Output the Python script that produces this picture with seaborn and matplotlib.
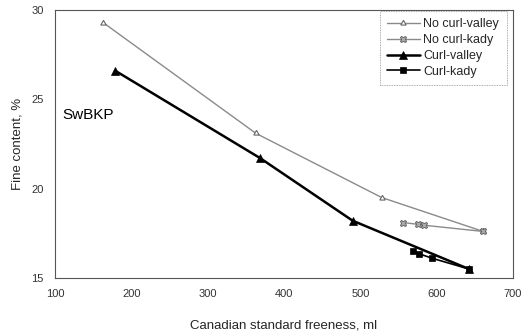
import matplotlib
matplotlib.use("Agg")
import matplotlib.pyplot as plt
import seaborn as sns
import pandas as pd

# Fine content vs. CSF for SwBKP, four refining series
nocurl_valley_csf = [163, 363, 528, 661]
nocurl_valley_fines = [29.3, 23.1, 19.5, 17.6]

nocurl_kady_csf = [556, 575, 583, 661]
nocurl_kady_fines = [18.1, 18.0, 17.95, 17.6]

curl_valley_csf = [179, 369, 490, 642]
curl_valley_fines = [26.6, 21.7, 18.2, 15.5]

curl_kady_csf = [569, 577, 594, 642]
curl_kady_fines = [16.5, 16.35, 16.1, 15.5]

series_names = ["No curl-valley", "No curl-kady", "Curl-valley", "Curl-kady"]

frames = []
for name, xs, ys in zip(series_names,
                        [nocurl_valley_csf, nocurl_kady_csf, curl_valley_csf, curl_kady_csf],
                        [nocurl_valley_fines, nocurl_kady_fines, curl_valley_fines, curl_kady_fines]):
    frames.append(pd.DataFrame({"csf": xs, "fines": ys, "series": name}))
df = pd.concat(frames, ignore_index=True)

sns.set_theme(style="white")
plt.rcParams["font.family"] = ["Liberation Sans", "DejaVu Sans"]

fig = plt.figure(figsize=(5.24, 3.36), dpi=100)
ax = fig.add_axes([0.105, 0.173, 0.874, 0.797])

styles = {
    "No curl-valley": dict(color="#8a8a8a", lw=1.0, marker=(3, 0, 0), ms=4.5, mfc="white", mec="#666666", mew=0.8),
    "No curl-kady": dict(color="#8a8a8a", lw=1.0, marker="X", ms=5, mfc="#aaaaaa", mec="#555555", mew=0.6),
    "Curl-valley": dict(color="black", lw=1.8, marker="^", ms=5.5, mfc="black", mec="black", mew=0.5),
    "Curl-kady": dict(color="black", lw=1.2, marker="s", ms=5, mfc="black", mec="black", mew=0.5),
}

for name in series_names:
    sub = df[df["series"] == name]
    st = styles[name]
    sns.lineplot(data=sub, x="csf", y="fines", ax=ax, sort=False, label=name,
                 color=st["color"], linewidth=st["lw"], marker=st["marker"],
                 markersize=st["ms"], markerfacecolor=st["mfc"],
                 markeredgecolor=st["mec"], markeredgewidth=st["mew"])

ax.set_xlim(100, 700)
ax.set_ylim(15, 30)
ax.set_xticks([100, 200, 300, 400, 500, 600, 700])
ax.set_yticks([15, 20, 25, 30])
ax.tick_params(axis="both", length=0, labelsize=8, labelcolor="#333333", pad=8)

for sp in ax.spines.values():
    sp.set_color("#555555")
    sp.set_linewidth(0.8)
    sp.set_linestyle((0, (2, 1)))

ax.set_xlabel("Canadian standard freeness, ml", fontsize=9.5, labelpad=15)
ax.set_ylabel("Fine content, %", fontsize=9.5, labelpad=6)

ax.text(0.015, 0.61, "SwBKP", transform=ax.transAxes, fontsize=11,
        ha="left", va="center", color="black")

leg = ax.legend(loc="upper right", bbox_to_anchor=(1.0, 1.02), fontsize=9,
                frameon=True, fancybox=False, handlelength=2.6,
                labelspacing=0.3, borderpad=0.6, handletextpad=0.3)
leg.get_frame().set_edgecolor("#777777")
leg.get_frame().set_linewidth(0.6)
leg.get_frame().set_linestyle((0, (1, 1)))

fig.savefig("out.png", dpi=100)
